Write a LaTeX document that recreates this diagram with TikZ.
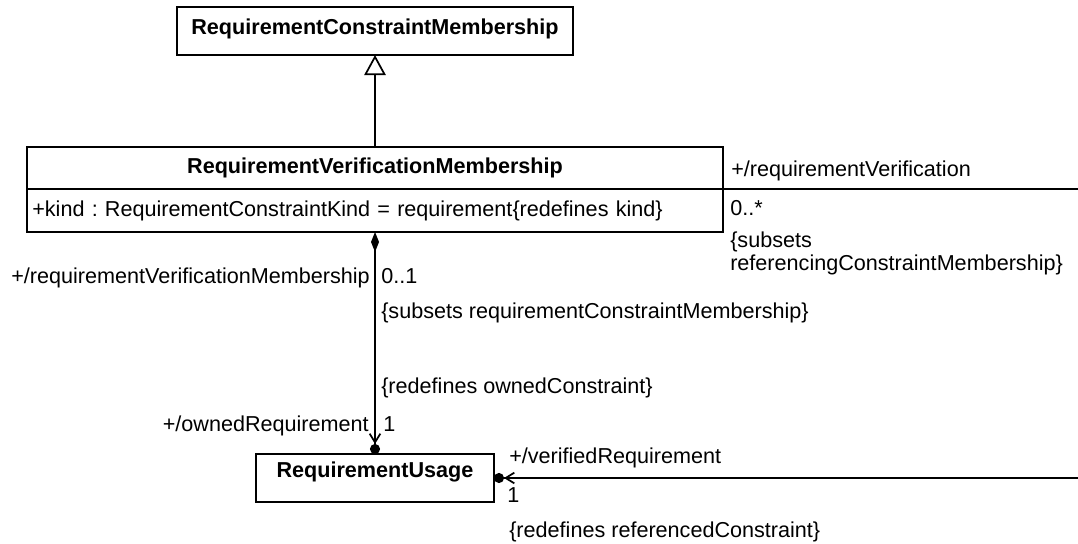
\documentclass[tikz,border=0pt]{standalone}
\usepackage{fontspec}
\setmainfont{Liberation Sans}
\usetikzlibrary{arrows.meta, positioning}

\begin{document}
\frenchspacing
\begin{tikzpicture}[
        x=0.75pt, y=-0.75pt,
        font=\fontsize{16.2}{16.6}\selectfont,
        classbox/.style={rectangle, draw=black, line width=1.3pt, fill=white, inner sep=0pt, outer sep=0pt, font=\fontsize{16.2}{16.6}\selectfont\bfseries},
        attrbox/.style={rectangle, draw=black, line width=1.3pt, fill=white, inner xsep=4pt, inner ysep=0pt, outer sep=0pt, text width=514pt, align=left, minimum height=32.25pt},
        lbl/.style={inner sep=0pt},
        gen/.style={line width=1.3pt, -{Triangle[open, length=15pt, width=16pt]}},
        comp/.style={line width=1.3pt, {Diamond[length=15pt, width=6pt]}-{Straight Barb[length=6.5pt, width=8pt] Circle[length=7.5pt]}},
        nav/.style={line width=1.3pt, -{Straight Barb[length=6.5pt, width=8pt] Circle[length=7.5pt]}}
    ]
    \useasboundingbox (0,0) rectangle (1078,543);

    \node[classbox, minimum width=297pt, minimum height=36pt, text depth=6pt] (rcm) at (375,31) {RequirementConstraintMembership};
    \node[classbox, minimum width=522pt, minimum height=31.5pt] (rvm) at (375,168) {RequirementVerificationMembership};
    \node[attrbox, below=0pt of rvm] (rvmattr) {+kind : RequirementConstraintKind = requirement\{redefines kind\}};
    \node[classbox, minimum width=178.5pt, minimum height=36pt, text depth=13pt] (ru) at (375,478) {RequirementUsage};

    \coordinate (rvend) at (1078,189);
    \coordinate (vrend) at (1078,478);

    % connectors
    \draw[gen] (rvm.north) -- (rvm.north |- rcm.south);
    \draw[comp] (rvmattr.south) -- (ru.north);
    \draw[line width=1.3pt] (rvmattr.north east) -- (rvend);
    \draw[nav] (vrend) -- (ru.east);

    % ends of the associations
    \node[lbl, anchor=base west] (rvrole) at (731,176) {+/requirementVerification};
    \node[lbl, anchor=base west] (rvmult) at (730,215) {0..*};
    \node[lbl, anchor=north west, align=left] (rvsub) at (730,232) {\{subsets\\referencingConstraintMembership\}};
    \node[lbl, anchor=base east] (rvmrole) at (370,283) {+/requirementVerificationMembership};
    \node[lbl, anchor=base west] (rvmmult) at (381,283) {0..1};
    \node[lbl, anchor=base west] (rvmsub) at (381,318) {\{subsets requirementConstraintMembership\}};
    \node[lbl, anchor=base west] (orsub) at (381,393) {\{redefines ownedConstraint\}};
    \node[lbl, anchor=base east] (orrole) at (369,431) {+/ownedRequirement};
    \node[lbl, anchor=base west] (ormult) at (383,431) {1};
    \node[lbl, anchor=base west] (vrrole) at (509,463) {+/verifiedRequirement};
    \node[lbl, anchor=base west] (vrmult) at (507,502) {1};
    \node[lbl, anchor=base west] (vrsub) at (509,537) {\{redefines referencedConstraint\}};
\end{tikzpicture}
\end{document}
